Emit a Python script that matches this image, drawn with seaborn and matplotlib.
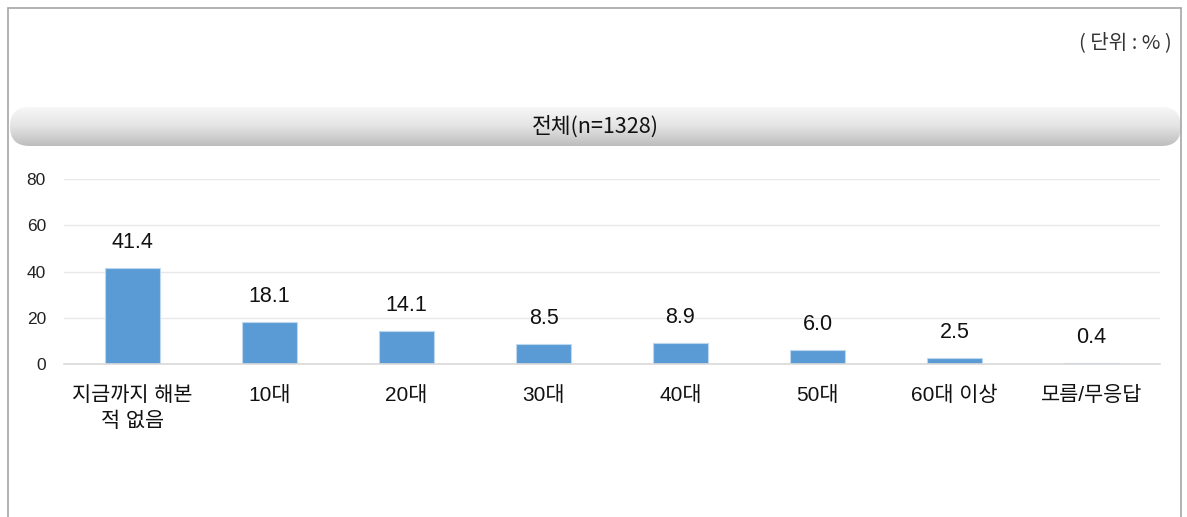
import matplotlib
matplotlib.use("Agg")
import matplotlib.pyplot as plt
import seaborn as sns
import numpy as np
import pandas as pd
from matplotlib.patches import FancyBboxPatch
from matplotlib.lines import Line2D
from matplotlib.colors import LinearSegmentedColormap

categories = ['지금까지 해본\n적 없음', '10대', '20대', '30대', '40대', '50대', '60대 이상', '모름/무응답']
values = [41.4, 18.1, 14.1, 8.5, 8.9, 6.0, 2.5, 0.4]
yticks = [0, 20, 40, 60, 80]
title = '전체(n=1328)'
unit = '( 단위 : % )'

sns.set_theme(style='white')
plt.rcParams['font.family'] = ['Liberation Sans', 'Noto Sans CJK KR', 'DejaVu Sans']

W, H = 1187, 517
fig = plt.figure(figsize=(W / 100, H / 100), dpi=100)
fig.patch.set_facecolor('white')

# outer frame (bottom is cut off in the source)
fr = dict(color='#a6a6a6', lw=1.2, transform=fig.transFigure)
fig.add_artist(Line2D([8 / W, 1181 / W], [1 - 8 / H, 1 - 8 / H], **fr))
fig.add_artist(Line2D([8 / W, 8 / W], [0, 1 - 8 / H], **fr))
fig.add_artist(Line2D([1181 / W, 1181 / W], [0, 1 - 8 / H], **fr))

fig.text(1172 / W, 1 - 43 / H, unit, ha='right', va='center', fontsize=14.5,
         color='#333333', family=['Noto Sans CJK KR', 'DejaVu Sans'])

# rounded gradient banner
bx0, bx1, by0, by1 = 10, 1181, 107, 146
bax = fig.add_axes([bx0 / W, 1 - by1 / H, (bx1 - bx0) / W, (by1 - by0) / H])
bax.set_xlim(0, 1)
bax.set_ylim(0, 1)
bax.axis('off')
grad = np.linspace(0, 1, 64).reshape(-1, 1)
cmap = LinearSegmentedColormap.from_list('g', ['#bdbdbd', '#e3e3e3', '#f7f7f7'])
im = bax.imshow(grad, cmap=cmap, aspect='auto', extent=[0, 1, 0, 1], origin='lower')
rx = 0.5 * (by1 - by0) / (bx1 - bx0)
clip = FancyBboxPatch((0, 0), 1, 1, boxstyle='round,pad=0,rounding_size=%f' % rx,
                      mutation_aspect=(bx1 - bx0) / (by1 - by0),
                      transform=bax.transAxes, facecolor='none', edgecolor='none')
bax.add_patch(clip)
im.set_clip_path(clip)
bax.text(0.5, 0.5, title, ha='center', va='center', fontsize=15.5, color='#111111',
         family=['Noto Sans CJK KR', 'DejaVu Sans'])

# bar chart
ax = fig.add_axes([64 / W, 1 - 364 / H, (1160 - 64) / W, (364 - 179) / H])
df = pd.DataFrame({'cat': categories, 'val': values})
sns.barplot(data=df, x='cat', y='val', color='#5b9bd5', width=0.4, ax=ax,
            edgecolor='#bdd7ee', linewidth=0.8, saturation=1)
ax.set_ylim(0, 80)
ax.set_xlim(-0.5, len(categories) - 0.5)
ax.set_yticks(yticks)
ax.set_xlabel('')
ax.set_ylabel('')
ax.grid(axis='y', color='#e8e8e8', lw=1)
ax.set_axisbelow(True)
for s in ['top', 'right', 'left']:
    ax.spines[s].set_visible(False)
ax.spines['bottom'].set_color('#d9d9d9')
ax.spines['bottom'].set_linewidth(1.2)
ax.tick_params(axis='y', length=0, pad=13, labelsize=12.5, labelcolor='#222222')
ax.tick_params(axis='x', length=0, pad=16, labelsize=15, labelcolor='#111111')
for lab in ax.get_xticklabels():
    lab.set_linespacing(1.45)
ax.bar_label(ax.containers[0], labels=['%.1f' % v for v in values], padding=11,
             fontsize=15.5, color='#111111')

fig.savefig('out.png', dpi=100, facecolor='white')
